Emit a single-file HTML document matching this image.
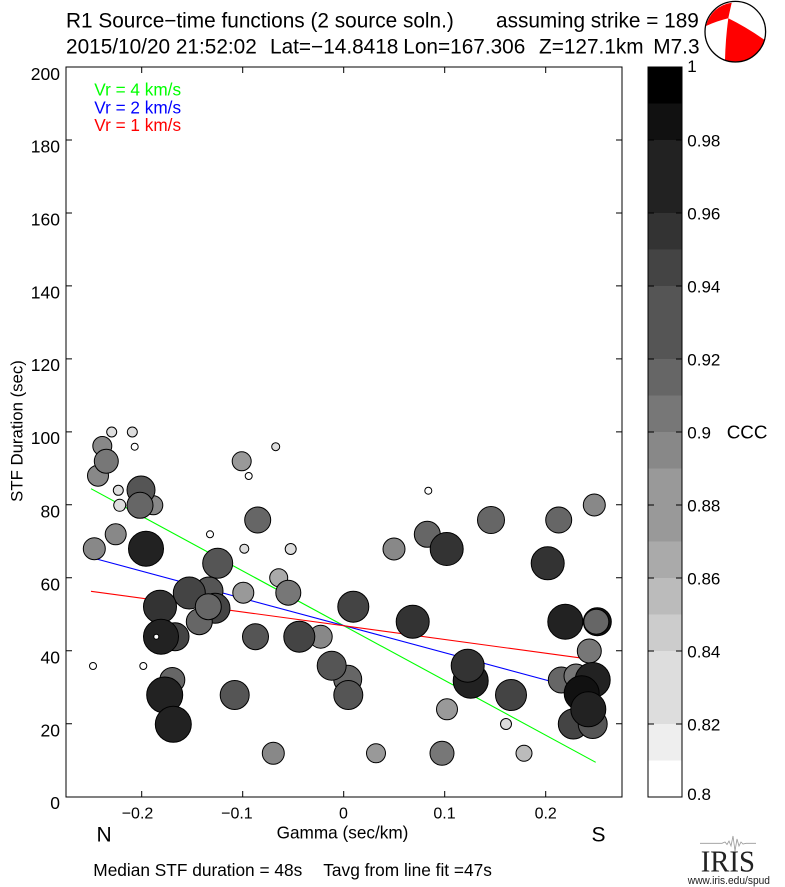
<!DOCTYPE html>
<html><head><meta charset="utf-8"><style>
html,body{margin:0;padding:0;background:#fff;}
svg{display:block;font-family:"Liberation Sans",Arial,sans-serif;}
</style></head><body>
<svg width="785" height="887" viewBox="0 0 785 887" xmlns="http://www.w3.org/2000/svg">
<rect width="785" height="887" fill="#fff"/>
<!-- Titles -->
<g font-size="20.8" fill="#000">
<text x="66" y="27.3">R1 Source−time functions (2 source soln.)</text>
<text x="496" y="27.3">assuming strike = 189</text>
<text x="66" y="53.3">2015/10/20 21:52:02</text>
<text x="270" y="53.3">Lat=−14.8418</text>
<text x="403.3" y="53.3">Lon=167.306</text>
<text x="539" y="53.3">Z=127.1km</text>
<text x="653.3" y="53.3">M7.3</text>
</g>
<!-- Beachball -->
<g>
<circle cx="735.3" cy="31.7" r="30.3" fill="#fff"/>
<path d="M706,26 Q717,21 728.3,18.3 Q730,10 731.7,2.7 A30.3 30.3 0 0 0 706,26 Z" fill="#f00"/>
<path d="M728.3,18.3 Q746,27 764.5,39.9 A30.3 30.3 0 0 1 725,60 Q725.5,39 728.3,18.3 Z" fill="#f00"/>
<circle cx="735.3" cy="31.7" r="30.3" fill="none" stroke="#000" stroke-width="1.3"/>
</g>
<!-- Fit lines -->
<g stroke-width="1.1" fill="none">
<line x1="91" y1="488.7" x2="595.7" y2="762.3" stroke="#0f0"/>
<line x1="91" y1="557.5" x2="596" y2="693.5" stroke="#00f"/>
<line x1="91" y1="591.3" x2="596" y2="660.1" stroke="#f00"/>
</g>
<!-- Circles -->
<g stroke="#000" stroke-width="1">
<circle cx="111.7" cy="432" r="5" fill="#ddd"/>
<circle cx="132.3" cy="432" r="5" fill="#ddd"/>
<circle cx="134.7" cy="446.7" r="3.5" fill="#fff"/>
<circle cx="102.3" cy="446" r="9.5" fill="#888"/>
<circle cx="98" cy="475.7" r="10.5" fill="#888"/>
<circle cx="106.3" cy="461.3" r="12" fill="#777"/>
<circle cx="118.3" cy="490.3" r="5" fill="#ddd"/>
<circle cx="119.7" cy="505.3" r="6" fill="#ddd"/>
<circle cx="153.3" cy="505.3" r="9.5" fill="#888"/>
<circle cx="141" cy="490" r="14" fill="#555"/>
<circle cx="140" cy="505.3" r="13" fill="#666"/>
<circle cx="115.7" cy="534.3" r="10.5" fill="#888"/>
<circle cx="94.3" cy="548.7" r="11" fill="#888"/>
<circle cx="146" cy="548.7" r="17.5" fill="#222"/>
<circle cx="210" cy="534.3" r="3.5" fill="#fff"/>
<circle cx="244.3" cy="548.7" r="4.5" fill="#ddd"/>
<circle cx="217.7" cy="563.3" r="15" fill="#555"/>
<circle cx="241.7" cy="461.3" r="9.5" fill="#999"/>
<circle cx="248.7" cy="476" r="3.5" fill="#fff"/>
<circle cx="275.7" cy="446.7" r="4" fill="#ddd"/>
<circle cx="257.7" cy="520" r="13" fill="#666"/>
<circle cx="290.7" cy="549" r="5.5" fill="#ddd"/>
<circle cx="278.7" cy="577.7" r="9" fill="#aaa"/>
<circle cx="288.3" cy="592.7" r="12.5" fill="#777"/>
<circle cx="243.3" cy="592.7" r="10.5" fill="#999"/>
<circle cx="209" cy="591" r="14" fill="#555"/>
<circle cx="189.3" cy="593" r="16" fill="#444"/>
<circle cx="215" cy="608.3" r="15" fill="#444"/>
<circle cx="199.3" cy="621.7" r="13" fill="#666"/>
<circle cx="208.3" cy="606.7" r="13" fill="#666"/>
<circle cx="160" cy="606.7" r="16.5" fill="#333"/>
<circle cx="175" cy="636.7" r="14" fill="#444"/>
<circle cx="161" cy="636.7" r="17.5" fill="#222"/>
<circle cx="156.3" cy="636.7" r="2.5" fill="#fff"/>
<circle cx="255.5" cy="636.7" r="13" fill="#555"/>
<circle cx="93" cy="666" r="3.5" fill="#fff"/>
<circle cx="143.3" cy="666" r="3.5" fill="#fff"/>
<circle cx="172.3" cy="680" r="12.5" fill="#666"/>
<circle cx="164.7" cy="695" r="18" fill="#222"/>
<circle cx="234.7" cy="695" r="14.5" fill="#555"/>
<circle cx="173.3" cy="724.3" r="18" fill="#222"/>
<circle cx="320.7" cy="636.7" r="11.5" fill="#888"/>
<circle cx="299.3" cy="636.7" r="15.5" fill="#444"/>
<circle cx="347.7" cy="679.3" r="14" fill="#666"/>
<circle cx="331.7" cy="665.7" r="14.5" fill="#555"/>
<circle cx="348.3" cy="695" r="14.5" fill="#555"/>
<circle cx="353.3" cy="606.7" r="15.5" fill="#444"/>
<circle cx="273.3" cy="753.3" r="11" fill="#888"/>
<circle cx="376" cy="753.3" r="9.5" fill="#999"/>
<circle cx="394" cy="549" r="11" fill="#888"/>
<circle cx="427.3" cy="534.3" r="13" fill="#666"/>
<circle cx="446.7" cy="549" r="16.5" fill="#333"/>
<circle cx="428.3" cy="490.7" r="3.5" fill="#fff"/>
<circle cx="412.7" cy="621.7" r="16.5" fill="#333"/>
<circle cx="491" cy="520" r="13.5" fill="#666"/>
<circle cx="558.7" cy="520" r="13" fill="#666"/>
<circle cx="594.3" cy="505" r="11" fill="#888"/>
<circle cx="547.7" cy="563.3" r="16.5" fill="#333"/>
<circle cx="565.3" cy="621.7" r="17.5" fill="#222"/>
<circle cx="597.3" cy="621.7" r="14" fill="#111"/>
<circle cx="596.3" cy="621.7" r="12.5" fill="#666"/>
<circle cx="589.3" cy="651" r="12" fill="#777"/>
<circle cx="470.7" cy="680.7" r="17.5" fill="#222"/>
<circle cx="467.7" cy="665.7" r="16.5" fill="#333"/>
<circle cx="511" cy="695" r="15.5" fill="#444"/>
<circle cx="447" cy="709.3" r="10.5" fill="#999"/>
<circle cx="506" cy="724" r="5.5" fill="#ddd"/>
<circle cx="442" cy="753.3" r="12" fill="#777"/>
<circle cx="524" cy="753.3" r="8" fill="#bbb"/>
<circle cx="573.3" cy="724" r="15" fill="#444"/>
<circle cx="592.7" cy="724" r="14.5" fill="#555"/>
<circle cx="561.3" cy="680" r="13" fill="#666"/>
<circle cx="576" cy="676" r="12" fill="#777"/>
<circle cx="592.7" cy="680" r="17.5" fill="#222"/>
<circle cx="581.7" cy="693.3" r="17.5" fill="#111"/>
<circle cx="588.3" cy="709.3" r="17.5" fill="#222"/>
</g>
<!-- Axes frame -->
<g stroke="#000" stroke-width="1" fill="none">
<rect x="66" y="67" width="556" height="730"/>
<!-- x ticks -->
<path d="M141.7,67v6M242.7,67v6M343.7,67v6M444.7,67v6M545.7,67v6M141.7,797v-6M242.7,797v-6M343.7,797v-6M444.7,797v-6M545.7,797v-6"/>
<!-- y ticks -->
<path d="M66,67h6M66,140h6M66,213h6M66,285.9h6M66,358.9h6M66,431.9h6M66,504.8h6M66,577.8h6M66,650.8h6M66,723.7h6M622,67h-6M622,140h-6M622,213h-6M622,285.9h-6M622,358.9h-6M622,431.9h-6M622,504.8h-6M622,577.8h-6M622,650.8h-6M622,723.7h-6"/>
</g>
<!-- y tick labels -->
<g font-size="17.5" text-anchor="end" fill="#000">
<text x="60" y="80">200</text>
<text x="60" y="152.5">180</text>
<text x="60" y="225.5">160</text>
<text x="60" y="298.5">140</text>
<text x="60" y="371">120</text>
<text x="60" y="444">100</text>
<text x="60" y="517.5">80</text>
<text x="60" y="590.5">60</text>
<text x="60" y="663.5">40</text>
<text x="60" y="736.5">20</text>
<text x="60" y="809">0</text>
</g>
<!-- x tick labels -->
<g font-size="16" fill="#000">
<text x="153.3" y="818.5" text-anchor="end">−0.2</text>
<text x="252.7" y="818.5" text-anchor="end">−0.1</text>
<text x="343.5" y="818.5" text-anchor="middle">0</text>
<text x="444.5" y="818.5" text-anchor="middle">0.1</text>
<text x="545.7" y="818.5" text-anchor="middle">0.2</text>
</g>
<text x="342.5" y="838.3" font-size="17.2" text-anchor="middle">Gamma (sec/km)</text>
<text transform="translate(22.7,431) rotate(-90)" font-size="16.8" text-anchor="middle">STF Duration (sec)</text>
<text x="96.5" y="841.7" font-size="21">N</text>
<text x="591.5" y="841.7" font-size="21">S</text>
<!-- legend -->
<g font-size="17.2">
<text x="94.3" y="95.7" fill="#0f0">Vr = 4 km/s</text>
<text x="94.3" y="113.3" fill="#00f">Vr = 2 km/s</text>
<text x="94.3" y="131" fill="#f00">Vr = 1 km/s</text>
</g>
<!-- bottom text -->
<g font-size="17.3">
<text x="93.3" y="876">Median STF duration = 48s</text>
<text x="323.3" y="876">Tavg from line fit =47s</text>
</g>
<!-- Colorbar -->
<g>
<rect x="648" y="67" width="34" height="36.5" fill="#000"/>
<rect x="648" y="103.5" width="34" height="36.5" fill="#111"/>
<rect x="648" y="140" width="34" height="73" fill="#222"/>
<rect x="648" y="213" width="34" height="36.5" fill="#333"/>
<rect x="648" y="249.5" width="34" height="36.5" fill="#444"/>
<rect x="648" y="286" width="34" height="73" fill="#555"/>
<rect x="648" y="359" width="34" height="36.5" fill="#666"/>
<rect x="648" y="395.5" width="34" height="36.5" fill="#777"/>
<rect x="648" y="432" width="34" height="36.5" fill="#888"/>
<rect x="648" y="468.5" width="34" height="73" fill="#999"/>
<rect x="648" y="541.5" width="34" height="36.5" fill="#aaa"/>
<rect x="648" y="578" width="34" height="36.5" fill="#bbb"/>
<rect x="648" y="614.5" width="34" height="36.5" fill="#ccc"/>
<rect x="648" y="651" width="34" height="73" fill="#ddd"/>
<rect x="648" y="724" width="34" height="36.5" fill="#eee"/>
<rect x="648" y="760.5" width="34" height="36.5" fill="#fff"/>
<rect x="648" y="67" width="34" height="730" fill="none" stroke="#000" stroke-width="1"/>
<path d="M648,140h6M648,213h6M648,286h6M648,359h6M648,432h6M648,505h6M648,578h6M648,651h6M648,724h6M682,140h-6M682,213h-6M682,286h-6M682,359h-6M682,432h-6M682,505h-6M682,578h-6M682,651h-6M682,724h-6" stroke="#000" stroke-width="1"/>
</g>
<g font-size="17" fill="#000">
<text x="687.3" y="72">1</text>
<text x="687.3" y="146.5">0.98</text>
<text x="687.3" y="219.5">0.96</text>
<text x="687.3" y="292.5">0.94</text>
<text x="687.3" y="365.5">0.92</text>
<text x="687.3" y="438.5">0.9</text>
<text x="687.3" y="511.5">0.88</text>
<text x="687.3" y="584.5">0.86</text>
<text x="687.3" y="657.5">0.84</text>
<text x="687.3" y="730.5">0.82</text>
<text x="687.3" y="800">0.8</text>
</g>
<text x="726.7" y="438.5" font-size="18.8">CCC</text>
<!-- IRIS logo -->
<path d="M700,843.3 L722,843.3 L725,842 L727,844.5 L729,841 L731,846 L733,836 L735,851 L737,839 L739,846 L741,842 L743,844 L746,843.3 L756,843.3" fill="none" stroke="#999" stroke-width="0.8"/>
<text x="700.7" y="871.7" font-family="Liberation Serif, serif" font-size="31" textLength="54.3" lengthAdjust="spacingAndGlyphs" fill="#222">IRIS</text>
<text x="687.7" y="884" font-size="11" textLength="82.3" lengthAdjust="spacingAndGlyphs" fill="#222">www.iris.edu/spud</text>
</svg>
</body></html>
